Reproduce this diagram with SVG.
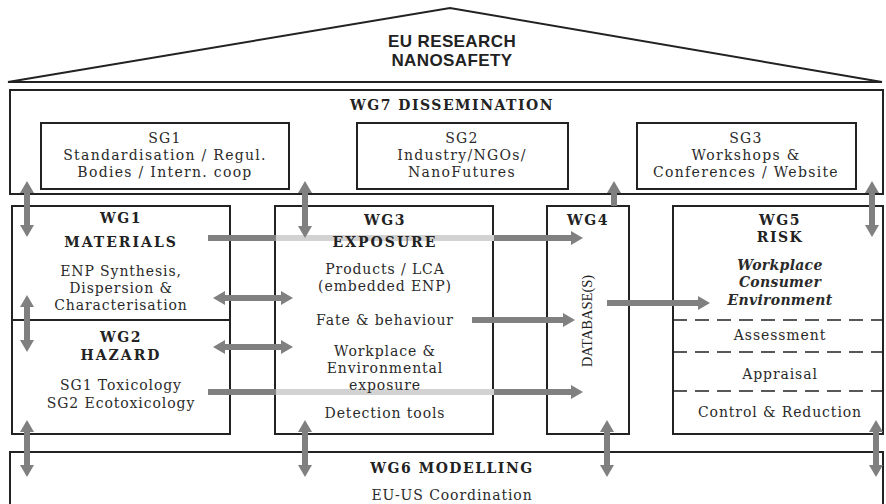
<svg xmlns="http://www.w3.org/2000/svg" width="886" height="504" viewBox="0 0 886 504">
<style>
.box{fill:#fff;stroke:#222;stroke-width:2}
.t{font-family:"DejaVu Serif","Liberation Serif",serif;font-size:14px;letter-spacing:0.9px;fill:#2a2a2a;text-anchor:middle}
.s{letter-spacing:1.3px}
.h{font-family:"DejaVu Serif","Liberation Serif",serif;font-size:14px;letter-spacing:1.5px;font-weight:bold;fill:#222;text-anchor:middle}
.bi{font-style:italic;font-weight:bold;letter-spacing:0.3px}
.roof{font-family:"Liberation Sans","DejaVu Sans",sans-serif;font-size:17px;letter-spacing:0.4px;font-weight:bold;fill:#222;text-anchor:middle}
.ar{fill:none;stroke:#808080;stroke-width:6;marker-end:url(#ah)}
.d2{marker-start:url(#ah)}
.dash{stroke:#222;stroke-width:1.5;stroke-dasharray:14 8}
</style>
<defs>
<marker id="ah" markerUnits="userSpaceOnUse" markerWidth="12" markerHeight="14" viewBox="0 0 12 14" refX="1" refY="7" orient="auto-start-reverse">
<path d="M0,0 L12,7 L0,14 z" fill="#808080"/>
</marker>
<linearGradient id="through" gradientUnits="userSpaceOnUse" x1="0" y1="0" x2="886" y2="0">
<stop offset="0.3115" stop-color="#808080"/>
<stop offset="0.3115" stop-color="#d2d2d2"/>
<stop offset="0.5576" stop-color="#d2d2d2"/>
<stop offset="0.5576" stop-color="#808080"/>
</linearGradient>
</defs>
<rect width="886" height="504" fill="#fff"/>

<g id="roof">
<polygon points="8,82 450,8 882,82" fill="#fff" stroke="#222" stroke-width="2"/>
<text class="roof" x="452" y="47">EU RESEARCH</text>
<text class="roof" x="452" y="66">NANOSAFETY</text>
</g>

<g id="wg7">
<rect class="box" x="10" y="90" width="873" height="104"/>
<text class="h" x="452" y="110">WG7 DISSEMINATION</text>
</g>
<g id="sg1">
<rect class="box" x="41" y="123" width="248" height="66"/>
<text class="t s" x="165" y="143">SG1</text>
<text class="t s" x="165" y="160">Standardisation / Regul.</text>
<text class="t s" x="165" y="177">Bodies / Intern. coop</text>
</g>
<g id="sg2">
<rect class="box" x="357" y="123" width="211" height="66"/>
<text class="t s" x="462" y="143">SG2</text>
<text class="t s" x="462" y="160">Industry/NGOs/</text>
<text class="t s" x="462" y="177">NanoFutures</text>
</g>
<g id="sg3">
<rect class="box" x="637" y="123" width="219" height="66"/>
<text class="t s" x="746" y="143">SG3</text>
<text class="t s" x="746" y="160">Workshops &amp;</text>
<text class="t s" x="746" y="177">Conferences / Website</text>
</g>

<g id="wg1">
<rect class="box" x="12" y="206" width="218" height="114"/>
<text class="h" x="121" y="223">WG1</text>
<text class="h" x="121" y="247" style="letter-spacing:2px">MATERIALS</text>
<text class="t" x="121" y="276">ENP Synthesis,</text>
<text class="t" x="121" y="293">Dispersion &amp;</text>
<text class="t" x="121" y="310">Characterisation</text>
</g>
<g id="wg2">
<rect class="box" x="12" y="320" width="218" height="114"/>
<text class="h" x="121" y="342">WG2</text>
<text class="h" x="121" y="360" style="letter-spacing:2px">HAZARD</text>
<text class="t" x="121" y="390">SG1 Toxicology</text>
<text class="t" x="121" y="408">SG2 Ecotoxicology</text>
</g>
<g id="wg3">
<rect class="box" x="275" y="206" width="218" height="228"/>
</g>
<g id="wg4">
<rect class="box" x="547" y="206" width="82" height="228"/>
</g>
<g id="wg5">
<rect class="box" x="673" y="206" width="210" height="228"/>
<line class="dash" x1="673" y1="320" x2="883" y2="320"/>
<line class="dash" x1="673" y1="352" x2="883" y2="352"/>
<line class="dash" x1="673" y1="391" x2="883" y2="391"/>
<text class="h" x="780" y="225">WG5</text>
<text class="h" x="780" y="242">RISK</text>
<text class="t bi" x="780" y="270">Workplace</text>
<text class="t bi" x="780" y="287">Consumer</text>
<text class="t bi" x="780" y="305">Environment</text>
<text class="t" x="780" y="340">Assessment</text>
<text class="t" x="780" y="379">Appraisal</text>
<text class="t" x="780" y="417">Control &amp; Reduction</text>
</g>
<g id="wg6">
<rect class="box" x="10" y="452" width="873" height="60"/>
<text class="h" x="452" y="473">WG6 MODELLING</text>
<text class="t" x="452" y="500">EU-US Coordination</text>
</g>

<g id="connectors">
<path class="ar" d="M208,238 H572" style="stroke:url(#through)"/>
<path class="ar" d="M208,392 H572" style="stroke:url(#through)"/>
<path class="ar d2" d="M224,298 H282"/>
<path class="ar d2" d="M224,347 H282"/>
<path class="ar" d="M472,320 H564"/>
<path class="ar" d="M607,303 H699"/>
<path class="ar d2" d="M27,192 V226"/>
<path class="ar d2" d="M305,192 V227"/>
<path class="ar" d="M614,206 V192"/>
<path class="ar d2" d="M872,192 V226"/>
<path class="ar d2" d="M27,306 V341"/>
<path class="ar d2" d="M27,431 V466"/>
<path class="ar d2" d="M305,431 V466"/>
<path class="ar d2" d="M607,431 V466"/>
<path class="ar d2" d="M876,431 V466"/>
</g>

<g id="wg3-text">
<text class="h" x="385" y="225">WG3</text>
<text class="h" x="385" y="247" style="letter-spacing:2px">EXPOSURE</text>
<text class="t" x="385" y="274">Products / LCA</text>
<text class="t" x="385" y="291">(embedded ENP)</text>
<text class="t" x="385" y="325">Fate &amp; behaviour</text>
<text class="t" x="385" y="356">Workplace &amp;</text>
<text class="t" x="385" y="373">Environmental</text>
<text class="t" x="385" y="390">exposure</text>
<text class="t" x="385" y="418">Detection tools</text>
</g>
<g id="wg4-text">
<text class="h" x="588" y="225">WG4</text>
<text x="0" y="0" transform="translate(592,321) rotate(-90)" style="font-family:'Liberation Serif',serif;font-size:14.5px;fill:#222;text-anchor:middle">DATABASE(S)</text>
</g>
</svg>
